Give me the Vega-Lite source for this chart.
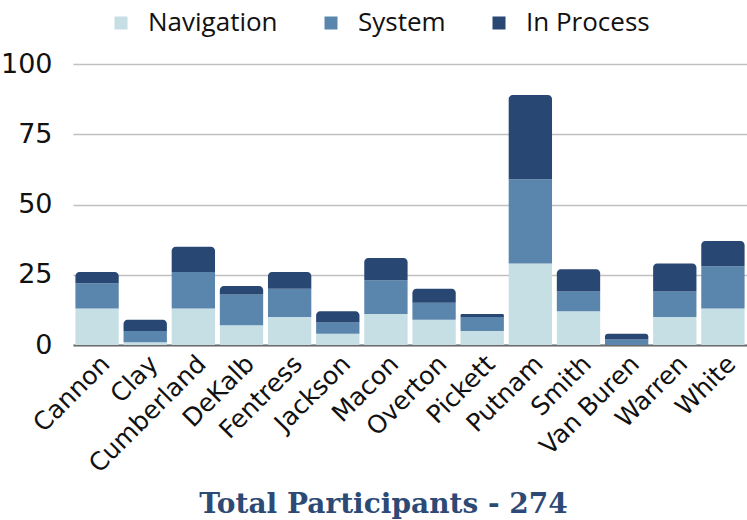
{
  "$schema": "https://vega.github.io/schema/vega-lite/v6.json",
  "width": 674,
  "height": 281,
  "autosize": "none",
  "padding": {"left": 73, "top": 64, "right": 0, "bottom": 175},
  "background": "white",
  "config": {"view": {"stroke": null}},
  "data": {"values": [
    {"county": "Cannon", "Navigation": 13, "System": 9, "In Process": 4},
    {"county": "Clay", "Navigation": 1, "System": 4, "In Process": 4},
    {"county": "Cumberland", "Navigation": 13, "System": 13, "In Process": 9},
    {"county": "DeKalb", "Navigation": 7, "System": 11, "In Process": 3},
    {"county": "Fentress", "Navigation": 10, "System": 10, "In Process": 6},
    {"county": "Jackson", "Navigation": 4, "System": 4, "In Process": 4},
    {"county": "Macon", "Navigation": 11, "System": 12, "In Process": 8},
    {"county": "Overton", "Navigation": 9, "System": 6, "In Process": 5},
    {"county": "Pickett", "Navigation": 5, "System": 5, "In Process": 1},
    {"county": "Putnam", "Navigation": 29, "System": 30, "In Process": 30},
    {"county": "Smith", "Navigation": 12, "System": 7, "In Process": 8},
    {"county": "Van Buren", "Navigation": 0, "System": 2, "In Process": 2},
    {"county": "Warren", "Navigation": 10, "System": 9, "In Process": 10},
    {"county": "White", "Navigation": 13, "System": 15, "In Process": 9}
  ]},
  "transform": [
    {"fold": ["Navigation", "System", "In Process"], "as": ["status", "count"]},
    {"stack": "count", "groupby": ["county"], "as": ["y0", "y1"]}
  ],
  "encoding": {
    "x": {
      "field": "county", "type": "nominal", "sort": null,
      "scale": {"paddingInner": 0.1, "paddingOuter": 0.05},
      "axis": {
        "title": "Total Participants - 274",
        "titleFont": "DejaVu Serif", "titleFontWeight": "bold", "titleFontSize": 28,
        "titleColor": "#2d4a75", "titleX": 310, "titleY": 167, "titleAlign": "center",
        "titleBaseline": "alphabetic",
        "labelAngle": -45, "labelFont": "DejaVu Sans", "labelFontSize": 25, "labelColor": "#111111",
        "labelPadding": 6,
        "ticks": false, "domainColor": "#6b6b6b", "domainWidth": 2
      }
    },
    "y": {
      "field": "y1", "type": "quantitative",
      "scale": {"domain": [0, 100], "nice": false},
      "axis": {
        "title": null, "values": [0, 25, 50, 75, 100],
        "labelFont": "DejaVu Sans", "labelFontSize": 27, "labelColor": "#111111",
        "ticks": false, "domain": false, "gridColor": "#c0c0c0", "gridWidth": 1.5,
        "labelPadding": 21
      }
    },
    "y2": {"field": "y0"},
    "color": {
      "field": "status", "type": "nominal",
      "scale": {"domain": ["Navigation", "System", "In Process"], "range": ["#c5dfe4", "#5a86ad", "#294773"]},
      "legend": {
        "title": null, "orient": "none", "legendX": 35, "legendY": -54, "direction": "horizontal",
        "symbolType": "square", "symbolSize": 169, "symbolStrokeWidth": 0,
        "labelFont": "Open Sans", "labelFontSize": 26, "labelColor": "#111111",
        "columnPadding": 40, "labelOffset": 14
      }
    }
  },
  "layer": [
    {"transform": [{"filter": "datum.status !== 'In Process'"}], "mark": {"type": "bar"}},
    {"transform": [{"filter": "datum.status === 'In Process'"}], "mark": {"type": "bar", "cornerRadiusTopLeft": 4, "cornerRadiusTopRight": 4}}
  ]
}
